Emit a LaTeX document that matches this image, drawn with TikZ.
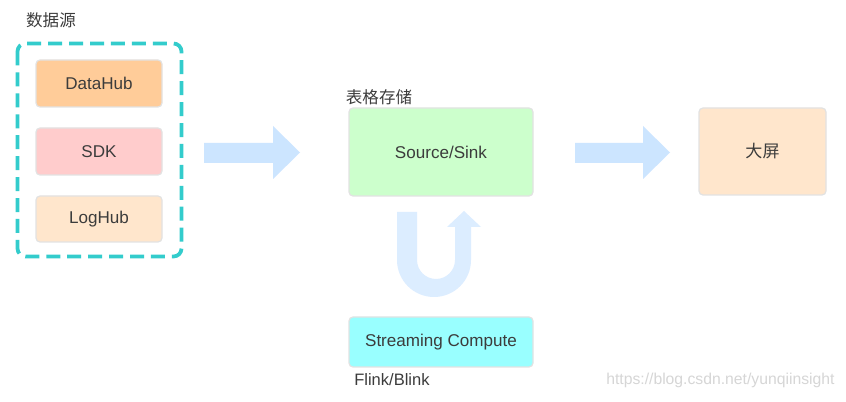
\documentclass[tikz,border=0pt]{standalone}
\usepackage{fontspec}
\setmainfont{Liberation Sans}
\newfontfamily\cjk{Noto Sans CJK SC}
\definecolor{txt}{HTML}{3C3C3C}
\definecolor{teal}{HTML}{33CCCC}
\definecolor{arr}{HTML}{CCE5FF}
\definecolor{arrlight}{HTML}{DCEDFF}
\definecolor{cOrange}{HTML}{FFCC99}
\definecolor{cPink}{HTML}{FFCCCC}
\definecolor{cPeach}{HTML}{FFE6CC}
\definecolor{cGreen}{HTML}{CCFFCC}
\definecolor{cCyan}{HTML}{99FFFF}
\definecolor{wm}{HTML}{D6D6D6}
\definecolor{edge}{HTML}{E2E2E2}
\begin{document}
\begin{tikzpicture}[x=0.75pt,y=-0.75pt,
  box/.style={draw=edge,line width=0.9pt,rounded corners=3pt,inner sep=0pt,text=txt,font=\fontsize{12.8}{15}\selectfont},
  lbl/.style={text=txt,font=\fontsize{12.4}{15}\selectfont,inner sep=0pt},
  blockarrow/.style={fill=arr,draw=none}]
\useasboundingbox (0,0) rectangle (846,402);
\fill[white] (0,0) rectangle (846,402);
% group
\node[lbl] (lsrc) at (51,20) {\cjk 数据源};
\draw[teal,line width=2.8pt,dash pattern=on 10.5pt off 5.2pt,rounded corners=6pt] (17.5,43.5) rectangle (181.5,256.5);
\node[box,fill=cOrange,minimum width=126*0.75pt,minimum height=47*0.75pt] (dh) at (99,83.5) {DataHub};
\node[box,fill=cPink,minimum width=126*0.75pt,minimum height=47*0.75pt] (sdk) at (99,151.5) {SDK};
\node[box,fill=cPeach,minimum width=126*0.75pt,minimum height=46*0.75pt] (lh) at (99,219) {LogHub};
% arrow 1
\fill[blockarrow] (204,143) -- (273,143) -- (273,126) -- (300,152.5) -- (273,179) -- (273,163) -- (204,163) -- cycle;
% storage
\node[lbl] (ltab) at (379,97) {\cjk 表格存储};
\node[box,fill=cGreen,minimum width=184*0.75pt,minimum height=88*0.75pt] (ss) at (441,152) {Source/Sink};
% arrow 2
\fill[blockarrow] (575,143) -- (643,143) -- (643,126) -- (670,152.5) -- (643,179) -- (643,163) -- (575,163) -- cycle;
\node[box,fill=cPeach,minimum width=127*0.75pt,minimum height=87*0.75pt] (scr) at (762.5,151.5) {\cjk 大屏};
% U-turn arrow
\fill[fill=arrlight] (397,212) -- (397,260) arc[start angle=180,end angle=0,radius=37] -- (471,227) -- (481,227) -- (464,211) -- (447,227) -- (455,227) -- (455,260) arc[start angle=0,end angle=180,radius=19] -- (417,212) -- cycle;
% compute
\node[box,fill=cCyan,minimum width=184*0.75pt,minimum height=50*0.75pt] (sc) at (441,342) {Streaming Compute};
\node[lbl,anchor=west] (lfl) at (354,380) {Flink/Blink};
\node[anchor=west,inner sep=0pt,text=wm,font=\fontsize{11.8}{14}\selectfont] (wmk) at (606,380) {https://blog.csdn.net/yunqiinsight};
\end{tikzpicture}
\end{document}
